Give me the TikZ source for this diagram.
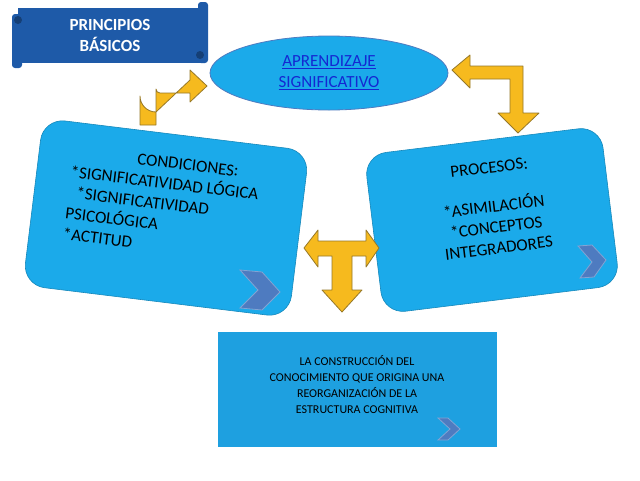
\documentclass[tikz,border=0pt]{standalone}
\usepackage{fontspec}
\setmainfont{Carlito}
\usetikzlibrary{shapes.geometric}
\definecolor{boxblue}{RGB}{27,170,234}
\definecolor{bottomblue}{RGB}{30,160,224}
\definecolor{titleblue}{RGB}{30,90,168}
\definecolor{gold}{RGB}{246,186,30}
\definecolor{goldedge}{RGB}{150,120,40}
\definecolor{chev}{RGB}{78,123,192}
\definecolor{linkblue}{RGB}{20,40,210}
\tikzset{
  bigbox/.style={draw=boxblue!80!black, line width=0.6pt, fill=boxblue, rounded corners=22pt, minimum width=268pt, minimum height=168pt},
  txt/.style={font=\fontsize{17}{21}\selectfont, text=black},
  goldarrow/.style={fill=gold, draw=goldedge, line width=0.8pt, line join=round},
  chevron/.style={fill=chev, draw=chev!70!white, line width=0.8pt},
}
\begin{document}
\begin{tikzpicture}[x=1pt,y=-1pt]
\useasboundingbox (0,0) rectangle (640,480);
\fill[white] (0,0) rectangle (640,480);
% title scroll
\fill[titleblue] (18,8) rectangle (205,63);
\fill[titleblue, rounded corners=3pt] (198,2) rectangle (208,63);
\fill[titleblue, rounded corners=3pt] (12,14) rectangle (22,68);
\fill[titleblue!70!black] (200,55) circle (4pt);
\fill[titleblue!70!black] (18,20) circle (4pt);
\node[font=\fontsize{17}{21}\selectfont\bfseries, text=white, align=center] (title) at (110,35) {PRINCIPIOS\\BÁSICOS};
% arrows behind boxes
\draw[goldarrow] (140,125) -- (140,96) arc[start angle=180,end angle=90,radius=16] -- (190,80) -- (190,70) -- (207,86) -- (190,102) -- (190,93) -- (160,93) arc[start angle=90,end angle=180,radius=4] -- (156,125) -- cycle;
\draw[goldarrow] (452,70) -- (470,55) -- (470,66) -- (523,66) -- (523,113) -- (539,113) -- (518,133) -- (498,113) -- (510,113) -- (510,79) -- (470,79) -- (470,88) -- cycle;
% ellipse
\node[ellipse, draw=chev, line width=0.8pt, fill=boxblue, minimum width=238pt, minimum height=74pt] (ap) at (329,73) {};
\node[font=\fontsize{17}{21}\selectfont, text=linkblue, align=center] (aptxt) at (329,73) {\underline{APRENDIZAJE}\\\underline{SIGNIFICATIVO}};
% left box
\node[bigbox, rotate=-7] (cond) at (166,218) {};
\node[txt, rotate=-7, align=left] (condtxt) at (162,204) {\hspace*{3.8em}CONDICIONES:\\*SIGNIFICATIVIDAD LÓGICA\\\hspace*{0.5em}*SIGNIFICATIVIDAD\\PSICOLÓGICA\\*ACTITUD};
\draw[chevron] (240,270) -- (262,272) -- (280,292) -- (262,310) -- (240,308) -- (258,290) -- cycle;
% right box
\node[bigbox, rotate=7, minimum width=238pt, minimum height=160pt] (proc) at (492,220) {};
\node[txt, rotate=7, align=center] (proctxt) at (494,208) {PROCESOS:\\[18pt]*ASIMILACIÓN\\*CONCEPTOS\\INTEGRADORES};
\draw[chevron] (578,246) -- (592,245) -- (606,260) -- (594,277) -- (580,278) -- (592,262) -- cycle;
% T arrow
\draw[goldarrow] (304,248) -- (318,230) -- (318,241) -- (366,241) -- (366,230) -- (379,248) -- (366,267) -- (366,256) -- (352,256) -- (352,290) -- (362,290) -- (342,312) -- (322,290) -- (332,290) -- (332,256) -- (318,256) -- (318,267) -- cycle;
% bottom box
\node[fill=bottomblue, minimum width=279pt, minimum height=115pt] (bot) at (357,389) {};
\node[font=\fontsize{12}{16}\selectfont, align=center] (bottxt) at (357,385) {LA CONSTRUCCIÓN DEL\\CONOCIMIENTO QUE ORIGINA UNA\\REORGANIZACIÓN DE LA\\ESTRUCTURA COGNITIVA};
\draw[chevron] (438,418) -- (448,418) -- (460,429) -- (448,440) -- (438,440) -- (450,429) -- cycle;
\end{tikzpicture}
\end{document}
